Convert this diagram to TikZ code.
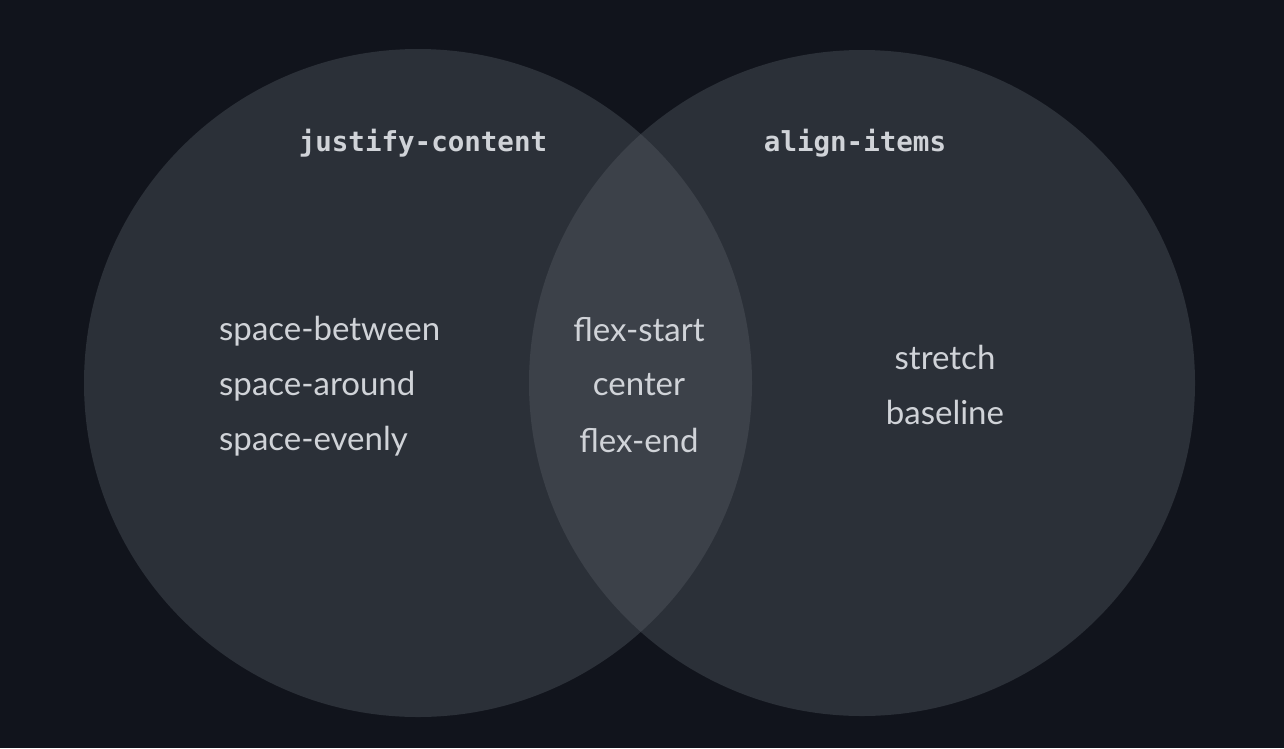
\documentclass[tikz,border=0pt]{standalone}
\usepackage{fontspec}
\setmainfont{Lato}
\newfontfamily\monofont{DejaVu Sans Mono}
\definecolor{bg}{HTML}{11141C}
\definecolor{circ}{HTML}{2B3038}
\definecolor{inter}{HTML}{3C4149}
\definecolor{txt}{HTML}{D0D3D8}
\tikzset{
  title/.style={text=txt, font=\monofont\bfseries\fontsize{27.5}{31}\selectfont, inner sep=0pt},
  item/.style={text=txt, font=\fontsize{33}{37}\selectfont, inner sep=0pt},
}
\begin{document}
\begin{tikzpicture}[x=1pt,y=-1pt]
\fill[bg] (0,0) rectangle (1284,748);
\useasboundingbox (0,0) rectangle (1284,748);
\coordinate (cl) at (418,383);
\coordinate (cr) at (862,383);
\fill[circ] (cl) circle[radius=334];
\fill[circ] (cr) circle[radius=333];
\begin{scope}
  \clip (cl) circle[radius=334];
  \fill[inter] (cr) circle[radius=333];
\end{scope}
\node[title] (jc) at (423,143) {justify-content};
\node[title] (ai) at (855,143) {align-items};
\node[item, anchor=west] (sb) at (219,331) {space-between};
\node[item, anchor=west] (sa) at (219,386) {space-around};
\node[item, anchor=west] (se) at (219,441) {space-evenly};
\node[item] (fs) at (639,330) {flex-start};
\node[item] (ce) at (639,385) {center};
\node[item] (fe) at (639,440) {flex-end};
\node[item] (st) at (945,357) {stretch};
\node[item] (bl) at (945,412) {baseline};
\end{tikzpicture}
\end{document}
